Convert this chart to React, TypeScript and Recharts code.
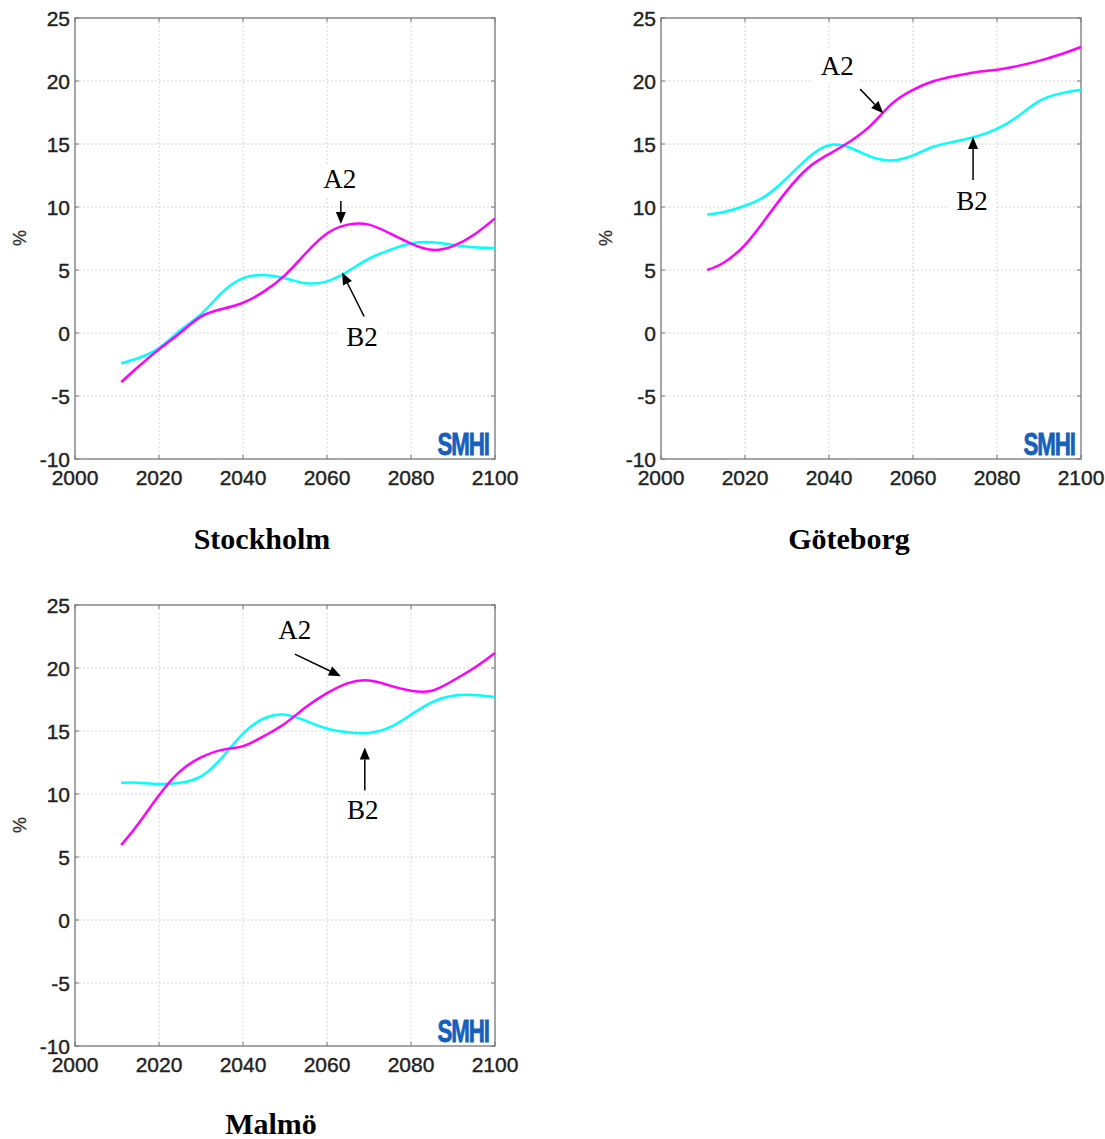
import React from "react";
import { LineChart, Line, XAxis, YAxis, CartesianGrid, ReferenceArea, ReferenceDot } from "recharts";

const years = [2011, 2015, 2020, 2025, 2030, 2035, 2040, 2045, 2050, 2055, 2060, 2065, 2070, 2075, 2080, 2085, 2090, 2095, 2100];

const stockholmA2 = [-3.9, -2.7, -1.3, 0.0, 1.3, 1.9, 2.4, 3.3, 4.6, 6.35, 7.9, 8.6, 8.6, 7.9, 7.1, 6.6, 6.9, 7.8, 9.1];
const stockholmB2 = [-2.4, -2.0, -1.2, 0.2, 1.5, 3.2, 4.35, 4.6, 4.35, 3.95, 4.1, 4.9, 5.9, 6.6, 7.1, 7.2, 7.0, 6.8, 6.75];

const goteborgA2 = [5.0, 5.6, 7.0, 9.1, 11.3, 13.1, 14.2, 15.2, 16.5, 18.2, 19.3, 20.0, 20.4, 20.7, 20.9, 21.2, 21.6, 22.1, 22.7];
const goteborgB2 = [9.4, 9.6, 10.1, 10.9, 12.3, 13.9, 14.9, 14.7, 14.0, 13.7, 14.1, 14.8, 15.2, 15.6, 16.2, 17.2, 18.4, 19.0, 19.3];

const malmoA2 = [5.95, 7.6, 9.9, 11.8, 12.9, 13.5, 13.8, 14.6, 15.6, 16.9, 18.0, 18.8, 19.0, 18.6, 18.2, 18.2, 19.0, 20.0, 21.2];
const malmoB2 = [10.9, 10.9, 10.8, 10.9, 11.4, 12.9, 14.8, 16.0, 16.3, 15.8, 15.2, 14.9, 14.85, 15.3, 16.3, 17.3, 17.8, 17.85, 17.7];

const xTicks = [2000, 2020, 2040, 2060, 2080, 2100];
const yTicks = [-10, -5, 0, 5, 10, 15, 20, 25];

// arrow tips in data coords, label offsets in px
const stockholmNotes = [
  { text: "A2", x: 2063.3, y: 8.65, tail: [0, -23], label: [-1, -36] },
  { text: "B2", x: 2063.6, y: 4.8, tail: [22, 44], label: [20, 73] },
];
const goteborgNotes = [
  { text: "A2", x: 2052.9, y: 17.45, tail: [-23, -24], label: [-46, -38] },
  { text: "B2", x: 2074.3, y: 15.55, tail: [0, 43], label: [-1, 73] },
];
const malmoNotes = [
  { text: "A2", x: 2063.3, y: 19.35, tail: [-46, -22], label: [-46, -37] },
  { text: "B2", x: 2069, y: 13.7, tail: [0, 43], label: [-2, 72] },
];

const PLOT_W = 420;
const PLOT_H = 441;
const TICK_FONT = "'Liberation Sans', Arial, Helvetica, sans-serif";
const SERIF = "'Liberation Serif', 'Times New Roman', serif";

const build = (a2: number[], b2: number[]) => years.map((year, i) => ({ year, a2: a2[i], b2: b2[i] }));

function XTick({ x, y, payload }: any) {
  return (
    <g>
      <line x1={x} x2={x} y1={y} y2={y - 4} stroke="#777" />
      <line x1={x} x2={x} y1={y - PLOT_H} y2={y - PLOT_H + 4} stroke="#777" />
      <text x={x} y={y + 26} textAnchor="middle" fontFamily={TICK_FONT} fontSize={21} fill="#222" stroke="#222" strokeWidth={0.4}>
        {payload.value}
      </text>
    </g>
  );
}

function YTick({ x, y, payload }: any) {
  return (
    <g>
      <line x1={x} x2={x + 4} y1={y} y2={y} stroke="#777" />
      <line x1={x + PLOT_W} x2={x + PLOT_W - 4} y1={y} y2={y} stroke="#777" />
      <text x={x - 5} y={y + 7.5} textAnchor="end" fontFamily={TICK_FONT} fontSize={21} fill="#222" stroke="#222" strokeWidth={0.4}>
        {payload.value}
      </text>
    </g>
  );
}

function Note({ cx, cy, note }: any) {
  const tx = cx + note.tail[0];
  const ty = cy + note.tail[1];
  const len = Math.hypot(cx - tx, cy - ty);
  const ux = (cx - tx) / len;
  const uy = (cy - ty) / len;
  const head = 12;
  const half = 5;
  const bx = cx - ux * head;
  const by = cy - uy * head;
  const lx = note.label[0] + cx;
  const ly = note.label[1] + cy;
  return (
    <g>
      <rect x={lx - 24} y={ly - 24} width={48} height={32} fill="#fff" />
      <line x1={tx} y1={ty} x2={bx} y2={by} stroke="#000" strokeWidth={1.5} />
      <polygon
        points={`${cx},${cy} ${bx - uy * half},${by + ux * half} ${bx + uy * half},${by - ux * half}`}
        fill="#000"
      />
      <text x={lx} y={ly} textAnchor="middle" fontFamily={SERIF} fontSize={27} fill="#000">
        {note.text}
      </text>
    </g>
  );
}

// condensed blue SMHI mark in the lower right corner
function Logo({ cx, cy }: any) {
  return (
    <g transform={`translate(${cx - 6},${cy - 4}) scale(0.72,1)`}>
      <text
        x={0}
        y={0}
        textAnchor="end"
        fontFamily={TICK_FONT}
        fontWeight="bold"
        fontSize={31}
        fill="#1560bd"
        stroke="#1560bd"
        strokeWidth={0.8}
        letterSpacing={-1.5}
      >
        SMHI
      </text>
    </g>
  );
}

function Panel({ data, notes, left, top }: { data: any[]; notes: any[]; left: number; top: number }) {
  return (
    <div style={{ position: "absolute", left, top }}>
      <LineChart width={520} height={500} data={data} margin={{ top: 18, right: 25, bottom: 1, left: 15 }}>
        <CartesianGrid stroke="#d4d4d4" strokeDasharray="2 2" />
        <XAxis
          dataKey="year"
          type="number"
          domain={[2000, 2100]}
          ticks={xTicks}
          height={40}
          axisLine={false}
          tickLine={false}
          tickSize={0}
          tickMargin={0}
          tick={<XTick />}
          interval={0}
        />
        <YAxis
          type="number"
          domain={[-10, 25]}
          ticks={yTicks}
          width={60}
          axisLine={false}
          tickLine={false}
          tickSize={0}
          tickMargin={0}
          tick={<YTick />}
          interval={0}
        />
        <Line dataKey="b2" type="natural" stroke="#00ffff" strokeWidth={2.5} dot={false} isAnimationActive={false} />
        <Line dataKey="a2" type="natural" stroke="#ff00ff" strokeWidth={2.5} dot={false} isAnimationActive={false} />
        <ReferenceArea x1={2000} x2={2100} y1={-10} y2={25} fill="none" stroke="#8c8c8c" strokeWidth={1.5} />
        {notes.map((n) => (
          <ReferenceDot key={n.text} x={n.x} y={n.y} r={1} shape={(p: any) => <Note cx={p.cx} cy={p.cy} note={n} />} />
        ))}
        <ReferenceDot x={2100} y={-10} r={1} shape={(p: any) => <Logo cx={p.cx} cy={p.cy} />} />
      </LineChart>
    </div>
  );
}

export default function App() {
  return (
    <div style={{ position: "absolute", left: 0, top: 0, width: 1105, height: 1139, background: "#fff" }}>
      <Panel data={build(stockholmA2, stockholmB2)} notes={stockholmNotes} left={0} top={0} />
      <Panel data={build(goteborgA2, goteborgB2)} notes={goteborgNotes} left={586} top={0} />
      <Panel data={build(malmoA2, malmoB2)} notes={malmoNotes} left={0} top={587} />
      <svg width={1105} height={1139} style={{ position: "absolute", left: 0, top: 0, pointerEvents: "none" }}>
        <g fontFamily={TICK_FONT} fontSize={18} fill="#333" stroke="#333" strokeWidth={0.3}>
          <text transform="translate(26,238) rotate(-90)" textAnchor="middle">%</text>
          <text transform="translate(612,238) rotate(-90)" textAnchor="middle">%</text>
          <text transform="translate(26,825) rotate(-90)" textAnchor="middle">%</text>
        </g>
        <g fontFamily={SERIF} fontSize={30} fontWeight="bold" fill="#000" textAnchor="middle">
          <text x={262} y={549}>Stockholm</text>
          <text x={849} y={549}>Göteborg</text>
          <text x={271} y={1134}>Malmö</text>
        </g>
      </svg>
    </div>
  );
}
